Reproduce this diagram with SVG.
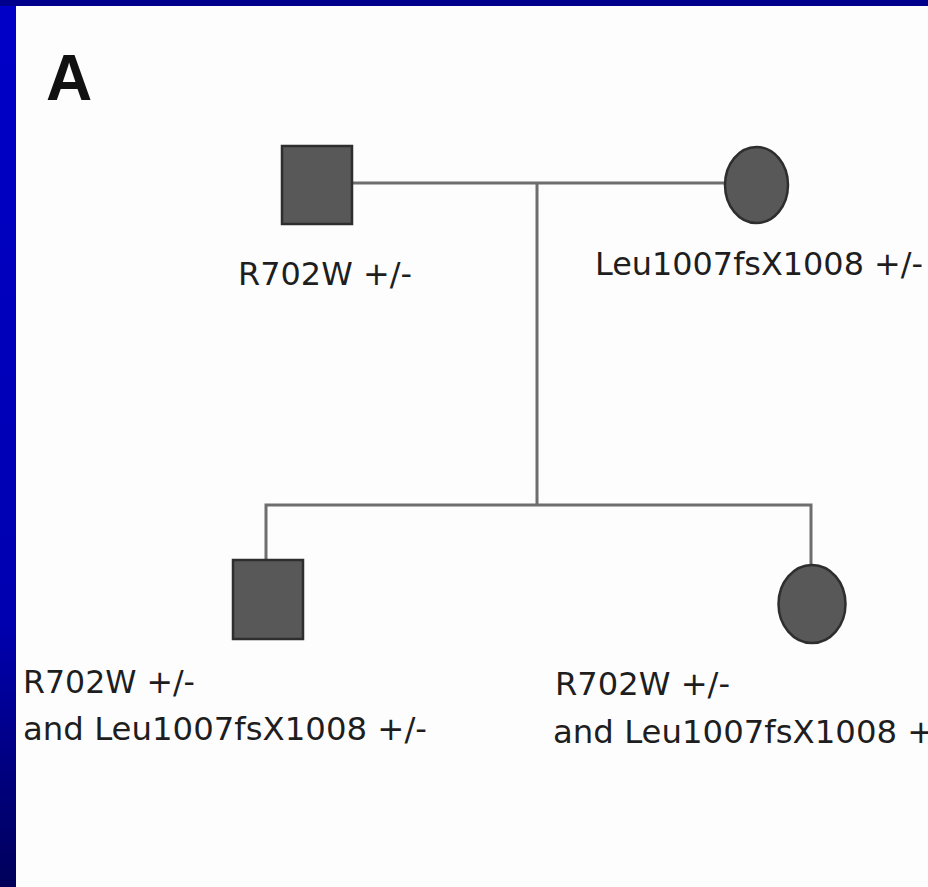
<svg xmlns="http://www.w3.org/2000/svg" width="928" height="887" viewBox="0 0 928 887">
  <defs>
    <linearGradient id="side" x1="0" y1="0" x2="0" y2="1">
      <stop offset="0" stop-color="#0000c8"/>
      <stop offset="0.7" stop-color="#0000b0"/>
      <stop offset="1" stop-color="#00005a"/>
    </linearGradient>
  </defs>
  <style>
    .lbl { font-family: "DejaVu Sans", "Liberation Sans", sans-serif; font-size: 32px; fill: #1e1e1e; }
    .link { stroke: #6e6e6e; stroke-width: 3; fill: none; }
    .aff { fill: #585858; stroke: #2e2e2e; stroke-width: 2.5; }
  </style>
  <rect x="0" y="0" width="928" height="887" fill="url(#side)"/>
  <rect x="0" y="0" width="928" height="6" fill="#00008c"/>
  <rect x="16" y="6" width="912" height="881" fill="#fdfdfd"/>

  <text x="46" y="100" font-family="Liberation Sans, Arial, sans-serif" font-weight="bold" font-size="64" fill="#111">A</text>

  <g id="connectors">
    <line class="link" x1="352" y1="183" x2="726" y2="183"/>
    <line class="link" x1="537" y1="183" x2="537" y2="505"/>
    <polyline class="link" points="266,560 266,505 811,505 811,566"/>
  </g>

  <g id="father">
    <rect class="aff" x="282" y="146" width="70" height="78"/>
    <text class="lbl" x="238" y="285" textLength="174" lengthAdjust="spacingAndGlyphs">R702W +/-</text>
  </g>

  <g id="mother">
    <ellipse class="aff" cx="756.5" cy="185" rx="31.5" ry="38"/>
    <text class="lbl" x="595" y="275" textLength="328" lengthAdjust="spacingAndGlyphs">Leu1007fsX1008 +/-</text>
  </g>

  <g id="son">
    <rect class="aff" x="233" y="560" width="70" height="79"/>
    <text class="lbl" x="23" y="693" textLength="172" lengthAdjust="spacingAndGlyphs">R702W +/-</text>
    <text class="lbl" x="23" y="740" textLength="404" lengthAdjust="spacingAndGlyphs">and Leu1007fsX1008 +/-</text>
  </g>

  <g id="daughter">
    <ellipse class="aff" cx="812" cy="604" rx="33.5" ry="39"/>
    <text class="lbl" x="555" y="695" textLength="175" lengthAdjust="spacingAndGlyphs">R702W +/-</text>
    <text class="lbl" x="553" y="743" textLength="404" lengthAdjust="spacingAndGlyphs">and Leu1007fsX1008 +/-</text>
  </g>
</svg>
